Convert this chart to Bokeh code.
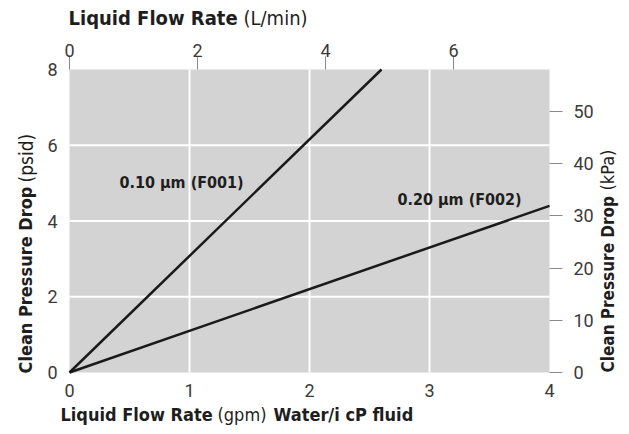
from bokeh.plotting import figure
from bokeh.models import Range1d, LinearAxis, FixedTicker, Label, BoxAnnotation
from bokeh.embed import file_html
from bokeh.resources import INLINE
import math

# ---- data ----
gpm_f001 = [0.0, 2.6]
psid_f001 = [0.0, 8.0]
gpm_f002 = [0.0, 4.0]
psid_f002 = [0.0, 4.4]
bottom_ticks = [0, 1, 2, 3, 4]
left_ticks = [0, 2, 4, 6, 8]
top_ticks = [0, 2, 4, 6]
right_ticks = [0, 10, 20, 30, 40, 50]
lmin_max = 7.5
kpa_max = 58
label_f001 = "0.10 µm (F001)"
label_f002 = "0.20 µm (F002)"

# ---- layout (pixels) ----
W, H = 625, 430
FL, FR, FT, FB = 69, 549, 69, 372   # grey plotting area in canvas pixels

X0, X1 = bottom_ticks[0], bottom_ticks[-1]
Y0, Y1 = left_ticks[0], left_ticks[-1]
sx = (FR - FL) / (X1 - X0)
sy = (FB - FT) / (Y1 - Y0)

def px(xp):
    return X0 + (xp - FL) / sx

def py(yp):
    return Y0 + (FB - yp) / sy

FONT = "DejaVu Sans Condensed"
TICK_FONT = "Roboto"
TICK_COLOR = "#3a3a3a"
TITLE_COLOR = "#1e1e1e"

p = figure(width=W, height=H, output_backend="svg", toolbar_location=None,
           x_range=Range1d(px(0), px(W)), y_range=Range1d(py(H), py(0)),
           x_axis_location=None, y_axis_location=None,
           min_border=0)
p.background_fill_color = "white"
p.border_fill_color = "white"
p.outline_line_color = None
p.xgrid.visible = False
p.ygrid.visible = False

s_l = (FR - FL) / lmin_max
s_k = (FB - FT) / kpa_max
p.extra_x_ranges = {"lmin": Range1d(-FL / s_l, (W - FL) / s_l)}
p.extra_y_ranges = {"kpa": Range1d(-(H - FB) / s_k, FB / s_k)}

# grey plotting area
p.add_layout(BoxAnnotation(left=X0, right=X1, bottom=Y0, top=Y1,
                           fill_color="#d3d3d3", fill_alpha=1, line_color=None, level="underlay"))

# white grid lines
gx = bottom_ticks[1:-1]
gy = left_ticks[1:-1]
p.segment(x0=gx, y0=[Y0] * len(gx), x1=gx, y1=[Y1] * len(gx), line_color="white", line_width=2)
p.segment(x0=[X0] * len(gy), y0=gy, x1=[X1] * len(gy), y1=gy, line_color="white", line_width=2)

def style_axis(ax, ticks, show_ticks, standoff):
    ax.ticker = FixedTicker(ticks=ticks)
    ax.axis_line_color = None
    ax.minor_tick_line_color = None
    if show_ticks:
        ax.major_tick_line_color = "#8a8a8a"
        ax.major_tick_out = 13
        ax.major_tick_in = 0
        ax.major_tick_line_width = 1
    else:
        ax.major_tick_line_color = None
        ax.major_tick_out = 0
        ax.major_tick_in = 0
    ax.major_label_text_font = TICK_FONT
    ax.major_label_text_font_style = "normal"
    ax.major_label_text_font_size = "18px"
    ax.major_label_text_color = TICK_COLOR
    ax.major_label_standoff = standoff

bottom = LinearAxis(fixed_location=Y0)
style_axis(bottom, bottom_ticks, False, 11)
p.add_layout(bottom, "below")

left = LinearAxis(fixed_location=X0)
style_axis(left, left_ticks, False, 12)
p.add_layout(left, "left")

top = LinearAxis(x_range_name="lmin", fixed_location=Y1)
style_axis(top, top_ticks, True, 0)
p.add_layout(top, "above")

right = LinearAxis(y_range_name="kpa", fixed_location=X1)
style_axis(right, right_ticks, True, 11)
p.add_layout(right, "right")

p.line(gpm_f001, psid_f001, line_color="#1a1a1a", line_width=2.5)
p.line(gpm_f002, psid_f002, line_color="#1a1a1a", line_width=2.5)

def lab(xp, yp, text, bold=True, size="18px", angle=0.0):
    p.add_layout(Label(x=px(xp), y=py(yp), text=text,
                       text_font=FONT, text_font_size=size,
                       text_font_style="bold" if bold else "normal", text_color=TITLE_COLOR,
                       text_align="left", text_baseline="middle", angle=angle))

# curve labels
lab(119, 182, label_f001, bold=True, size="16px")
lab(397, 199, label_f002, bold=True, size="16px")

# top title
lab(68, 17, "Liquid Flow Rate", bold=True, size="20px")
lab(243, 17, "(L/min)", bold=False, size="20px")

# bottom title
lab(60, 414, "Liquid Flow Rate", bold=True, size="18px")
lab(217, 414, "(gpm)", bold=False, size="18px")
lab(273, 414, "Water/i cP fluid", bold=True, size="18px")

# left title
lab(25, 373, "Clean Pressure Drop", bold=True, size="18px", angle=math.pi / 2)
lab(25, 182, "(psid)", bold=False, size="19px", angle=math.pi / 2)

# right title
lab(607, 372, "Clean Pressure Drop", bold=True, size="17px", angle=math.pi / 2)
lab(607, 190, "(kPa)", bold=False, size="18px", angle=math.pi / 2)

open("out.html", "w").write(file_html(p, INLINE))
